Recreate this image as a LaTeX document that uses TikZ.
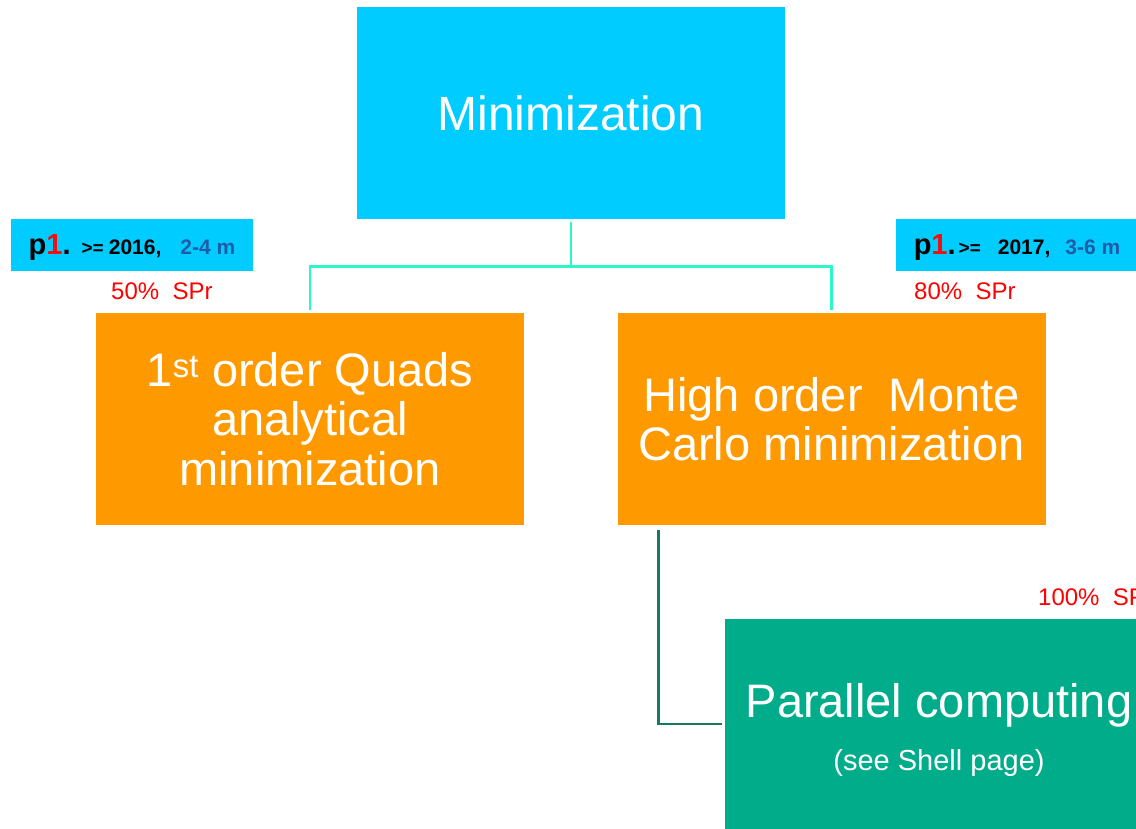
\documentclass[tikz,border=0pt]{standalone}
\usepackage{fontspec}
\setmainfont{Liberation Sans}
\definecolor{skyc}{HTML}{00CCFF}
\definecolor{orangec}{HTML}{FF9900}
\definecolor{greenc}{HTML}{00AC8A}
\definecolor{linklight}{HTML}{2AF8C8}
\definecolor{linkdark}{HTML}{167A62}
\definecolor{tagblue}{HTML}{1F5CA8}
\definecolor{tagred}{HTML}{EE1111}
\newcommand{\tagtext}[5]{%
  {\fontsize{29}{29}\selectfont\bfseries p\textcolor{tagred}{1}.}\hspace{#1}%
  {\fontsize{19}{19}\selectfont\bfseries >=}\hspace{#2}%
  {\fontsize{21}{21}\selectfont\bfseries #3}\hspace{#4}%
  {\fontsize{21}{21}\selectfont\bfseries\color{tagblue}#5}}
\begin{document}
\begin{tikzpicture}[x=1pt,y=-1pt,
  box/.style={inner sep=0pt, minimum width=428pt, minimum height=212pt,
    text=white, align=center, font=\fontsize{47}{49.5}\selectfont},
  tag/.style={fill=skyc, inner sep=0pt, minimum width=242pt, minimum height=52pt,
    text depth=0pt},
  share/.style={text=red, inner sep=0pt, anchor=base west,
    font=\fontsize{24}{24}\selectfont},
  branch/.style={draw=linklight, line width=2.8pt},
  sublink/.style={draw=linkdark, line width=2.8pt}]
\useasboundingbox (0,0) rectangle (1136,829);
\clip (0,0) rectangle (1136,829);

% main box
\node[box, fill=skyc, font=\fontsize{48}{50}\selectfont] (top) at (571,113) {Minimization};

% priority tags
\node[tag] (tagL) at (132,245) {\tagtext{11pt}{5pt}{2016,}{19pt}{2-4 m}};
\node[tag] (tagR) at (1017,245) {\tagtext{3pt}{17pt}{2017,}{15pt}{3-6 m}};

% shares
\node[share] (shL) at (111,300) {50\%\ \ SPr};
\node[share] (shR) at (914,300) {80\%\ \ SPr};
\node[share] (shG) at (1038,605) {100\%\ \ SPr};

% method boxes
\node[box, fill=orangec] (left) at (310,419)
  {1\textsuperscript{st} order Quads\\analytical\\minimization};
\node[box, fill=orangec] (right) at (831.5,419)
  {High order\ \ Monte\\Carlo minimization};
\node[box, fill=greenc, minimum height=210pt] (green) at (939,724) {};
\node[text=white, inner sep=0pt, anchor=base, font=\fontsize{47}{50}\selectfont]
  (greenA) at (939,717) {Parallel computing};
\node[text=white, inner sep=0pt, anchor=base, font=\fontsize{29}{32}\selectfont]
  (greenB) at (939,770) {(see Shell page)};

% connectors
\draw[branch] ([yshift=-3pt]top.south) -- ++(0,44) coordinate (bar)
  -| ([yshift=3pt]left.north);
\draw[branch] (bar) -| ([yshift=3pt]right.north);
\draw[sublink] ([xshift=41pt,yshift=-5pt]right.south west)
  |- ([xshift=-3pt]green.west);
\end{tikzpicture}
\end{document}
